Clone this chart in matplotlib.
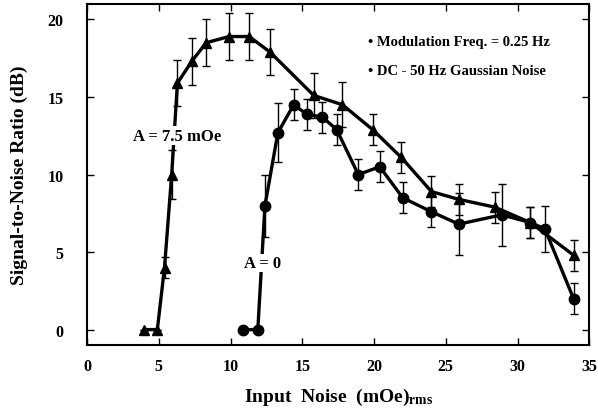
import matplotlib
matplotlib.use("Agg")
import matplotlib.pyplot as plt

# A = 7.5 mOe (triangles)
tri_x = [4.0, 4.9, 5.4, 5.9, 6.3, 7.3, 8.3, 9.9, 11.3, 12.75, 15.8, 17.8, 19.9, 21.9, 24.0, 25.9, 28.4, 30.9, 33.9]
tri_y = [0.0, 0.0, 4.0, 10.0, 15.9, 17.3, 18.5, 18.9, 18.9, 17.9, 15.1, 14.5, 12.9, 11.1, 8.9, 8.4, 7.9, 6.9, 4.8]
tri_err = [0, 0, 0.7, 1.6, 1.5, 1.5, 1.5, 1.5, 1.5, 1.5, 1.45, 1.45, 1.0, 1.0, 1.0, 1.0, 1.0, 1.0, 1.0]

# A = 0 (circles)
cir_x = [10.9, 11.9, 12.4, 13.3, 14.4, 15.3, 16.4, 17.4, 18.9, 20.4, 22.0, 24.0, 25.9, 28.9, 30.9, 31.9, 33.9]
cir_y = [0.0, 0.0, 8.0, 12.7, 14.5, 13.9, 13.7, 12.9, 10.0, 10.5, 8.5, 7.6, 6.8, 7.4, 6.9, 6.5, 2.0]
cir_err = [0, 0, 2.0, 1.9, 1.0, 1.0, 1.0, 1.0, 1.0, 1.0, 1.0, 1.0, 2.0, 2.0, 1.0, 1.5, 1.0]

plt.rcParams["font.family"] = ["Liberation Serif", "DejaVu Serif"]
plt.rcParams["font.weight"] = "bold"
plt.rcParams["mathtext.fontset"] = "custom"
plt.rcParams["mathtext.rm"] = "Liberation Serif:bold"
plt.rcParams["mathtext.it"] = "Liberation Serif:bold"

fig = plt.figure(figsize=(5.98, 4.14), dpi=100)
ax = fig.add_axes([0.1455, 0.164, 0.84, 0.824])

ax.errorbar(tri_x, tri_y, yerr=tri_err, color="black", marker="^", ms=7,
            lw=2.4, elinewidth=1, capsize=3, capthick=1)
ax.errorbar(cir_x, cir_y, yerr=cir_err, color="black", marker="o", ms=7.5,
            lw=2.4, elinewidth=1, capsize=3, capthick=1)

box = dict(facecolor="white", edgecolor="none", pad=1)
ax.text(6.3, 12.5, "A = 7.5 mOe", ha="center", va="center", fontsize=12,
        fontweight="bold", bbox=box, zorder=5)
ax.text(12.2, 4.3, "A = 0", ha="center", va="center", fontsize=12,
        fontweight="bold", bbox=box, zorder=5)
ax.text(19.6, 18.6, "• Modulation Freq. = 0.25 Hz", ha="left", va="center", fontsize=10.5, fontweight="bold")
ax.text(19.6, 16.7, "• DC - 50 Hz Gaussian Noise", ha="left", va="center", fontsize=10.5, fontweight="bold")

ax.set_xlim(0, 35)
ax.set_ylim(-1, 21)
ax.set_xticks(range(0, 36, 5))
ax.set_yticks(range(0, 21, 5))
ax.tick_params(direction="in", top=True, right=True, length=5, width=1, labelsize=11.5)
ax.tick_params(axis="x", pad=9)
ax.tick_params(axis="y", pad=17)
for lab in ax.get_xticklabels() + ax.get_yticklabels():
    lab.set_fontweight("bold")
for s in ax.spines.values():
    s.set_linewidth(1.5)

ax.set_xlabel("Input  Noise  (mOe)$_{\\mathrm{rms}}$", fontsize=14, fontweight="bold", labelpad=9)
ax.set_ylabel("Signal-to-Noise Ratio (dB)", fontsize=14, fontweight="bold", labelpad=14)

fig.savefig("out.png", dpi=100)
